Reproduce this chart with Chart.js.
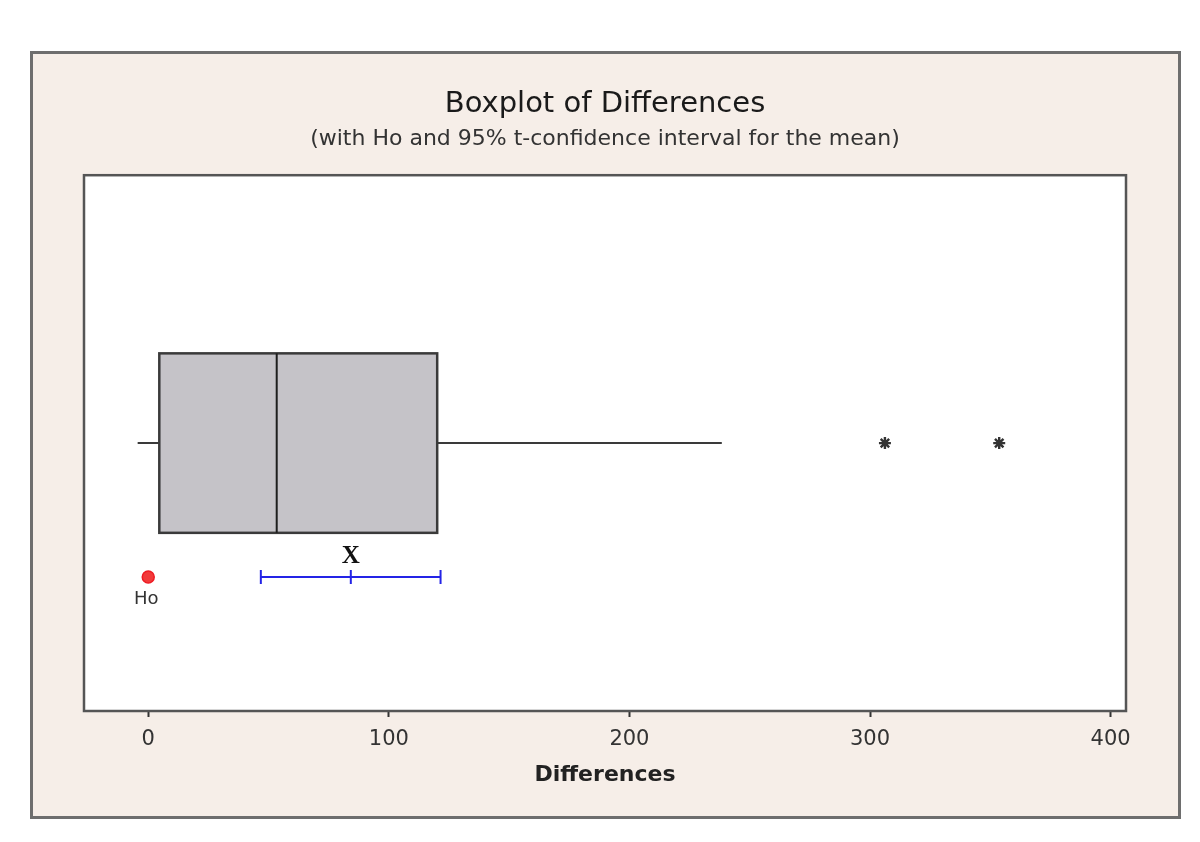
<!DOCTYPE html>
<html>
<head>
<meta charset="utf-8">
<script src="https://cdn.jsdelivr.net/npm/chart.js@4.4.1/dist/chart.umd.min.js"></script>
<style>
  html, body { margin: 0; padding: 0; background: #ffffff; }
  #wrap { width: 1200px; height: 842px; position: relative; }
</style>
</head>
<body>
<div id="wrap"><canvas id="c" width="1200" height="842"></canvas></div>
<script>
// ---- data ----
const categories = ['Differences'];
const boxQ1 = [4.6];
const boxMedian = [53.4];
const boxQ3 = [120.1];
const whiskerLow = [-4.4];
const whiskerHigh = [238.4];
const outlierValues = [306.2, 353.7];
const ciLow = [46.8];
const ciMean = [84.2];
const ciHigh = [121.5];
const hoValue = [0];
const xTickValues = [0, 100, 200, 300, 400];
const titleText = 'Boxplot of Differences';
const subtitleText = '(with Ho and 95% t-confidence interval for the mean)';
const axisTitle = 'Differences';

// ---- layout constants (not data) ----
const ROW_BOX = 2, ROW_CI = 1;
const BOX_HALF = 0.67;

const frame = {
  id: 'frame',
  beforeDraw(chart) {
    const ctx = chart.ctx, a = chart.chartArea;
    ctx.save();
    ctx.fillStyle = '#ffffff';
    ctx.fillRect(0, 0, chart.width, chart.height);
    ctx.fillStyle = '#f6eee8';
    ctx.fillRect(31, 52, 1149, 766);
    ctx.strokeStyle = '#6e6e6e';
    ctx.lineWidth = 3;
    ctx.strokeRect(31.5, 52.5, 1148, 765);
    ctx.fillStyle = '#ffffff';
    ctx.fillRect(a.left, a.top, a.right - a.left, a.bottom - a.top);
    ctx.restore();
  },
  afterDraw(chart) {
    const ctx = chart.ctx, a = chart.chartArea;
    ctx.save();
    ctx.strokeStyle = '#555555';
    ctx.lineWidth = 2.5;
    ctx.strokeRect(a.left, a.top, a.right - a.left, a.bottom - a.top);
    ctx.restore();
  }
};

const boxPlugin = {
  id: 'boxPlugin',
  beforeDatasetsDraw(chart) {
    const ctx = chart.ctx, x = chart.scales.x, y = chart.scales.y;
    ctx.save();
    for (let i = 0; i < categories.length; i++) {
      const l = x.getPixelForValue(boxQ1[i]);
      const r = x.getPixelForValue(boxQ3[i]);
      const t = y.getPixelForValue(ROW_BOX + BOX_HALF);
      const b = y.getPixelForValue(ROW_BOX - BOX_HALF);
      ctx.fillStyle = '#c5c3c8';
      ctx.fillRect(l, t, r - l, b - t);
      ctx.strokeStyle = '#3a3a3a';
      ctx.lineWidth = 2.5;
      ctx.strokeRect(l, t, r - l, b - t);
      const m = x.getPixelForValue(boxMedian[i]);
      ctx.strokeStyle = '#1e1e1e';
      ctx.lineWidth = 2;
      ctx.beginPath();
      ctx.moveTo(m, t); ctx.lineTo(m, b);
      ctx.stroke();
    }
    ctx.restore();
  },
  afterDatasetsDraw(chart) {
    const ctx = chart.ctx, x = chart.scales.x, y = chart.scales.y;
    ctx.save();
    ctx.textAlign = 'center';
    ctx.textBaseline = 'middle';
    ctx.fillStyle = '#111111';
    ctx.font = 'bold 25px "Liberation Serif"';
    ctx.fillText('X', x.getPixelForValue(ciMean[0]), y.getPixelForValue(ROW_CI + 0.155));
    ctx.fillStyle = '#333333';
    ctx.font = '18px "DejaVu Sans"';
    ctx.fillText('Ho', x.getPixelForValue(hoValue[0]) - 2, y.getPixelForValue(ROW_CI - 0.17));
    ctx.restore();
  }
};

const whiskerData = [];
for (let i = 0; i < categories.length; i++) {
  whiskerData.push({x: whiskerLow[i], y: ROW_BOX}, {x: boxQ1[i], y: ROW_BOX}, {x: null, y: null},
                   {x: boxQ3[i], y: ROW_BOX}, {x: whiskerHigh[i], y: ROW_BOX});
}

new Chart(document.getElementById('c'), {
  type: 'scatter',
  data: {
    datasets: [
      {
        label: 'whiskers', data: whiskerData, showLine: true, spanGaps: false,
        borderColor: '#3a3a3a', borderWidth: 2, pointRadius: 0
      },
      {
        label: 'outliers', data: outlierValues.map(v => ({x: v, y: ROW_BOX})),
        pointStyle: 'star', pointRadius: 6, borderColor: '#333333', borderWidth: 2.4,
        backgroundColor: '#333333'
      },
      {
        label: 'CI', data: [{x: ciLow[0], y: ROW_CI}, {x: ciHigh[0], y: ROW_CI}], showLine: true,
        borderColor: '#2424e6', borderWidth: 2, pointRadius: 0
      },
      {
        label: 'CI caps', data: [ciLow[0], ciMean[0], ciHigh[0]].map(v => ({x: v, y: ROW_CI})),
        pointStyle: 'line', rotation: 90, pointRadius: 7, borderColor: '#2424e6', borderWidth: 2
      },
      {
        label: 'Ho', data: hoValue.map(v => ({x: v, y: ROW_CI})),
        pointStyle: 'circle', pointRadius: 6, borderColor: '#ee1c24', borderWidth: 1.5,
        backgroundColor: '#f23a3a'
      },
      {
        label: 'Ho cross', data: hoValue.map(v => ({x: v, y: ROW_CI})),
        pointStyle: 'cross', pointRadius: 5, borderColor: '#ffc0c0', borderWidth: 1.2
      }
    ]
  },
  options: {
    responsive: false,
    animation: false,
    devicePixelRatio: 1,
    layout: { padding: { left: 84, right: 74, top: 78, bottom: 52 } },
    plugins: {
      legend: { display: false },
      tooltip: { enabled: false },
      title: {
        display: true, text: titleText, color: '#1a1a1a',
        font: { family: '"DejaVu Sans"', size: 29, weight: 'normal' },
        padding: { top: 9, bottom: 0 }
      },
      subtitle: {
        display: true, text: subtitleText, color: '#333333',
        font: { family: '"DejaVu Sans"', size: 22 },
        padding: { top: 4, bottom: 23 }
      }
    },
    scales: {
      x: {
        type: 'linear', min: -26.7, max: 406.4,
        afterBuildTicks: (s) => { s.ticks = xTickValues.map(v => ({value: v})); },
        afterFit: (s) => { s.height = 79; },
        grid: { drawOnChartArea: false, drawTicks: true, tickLength: 6, color: '#333333', tickWidth: 2 },
        border: { display: false },
        ticks: { color: '#333333', padding: 10, font: { family: '"DejaVu Sans"', size: 21 }, maxRotation: 0 },
        title: {
          display: true, text: axisTitle, color: '#222222',
          font: { family: '"DejaVu Sans"', size: 22, weight: 'bold' },
          padding: { top: 0, bottom: 2 }
        }
      },
      y: { type: 'linear', min: 0, max: 4, display: false }
    }
  },
  plugins: [frame, boxPlugin]
});
</script>
</body>
</html>
